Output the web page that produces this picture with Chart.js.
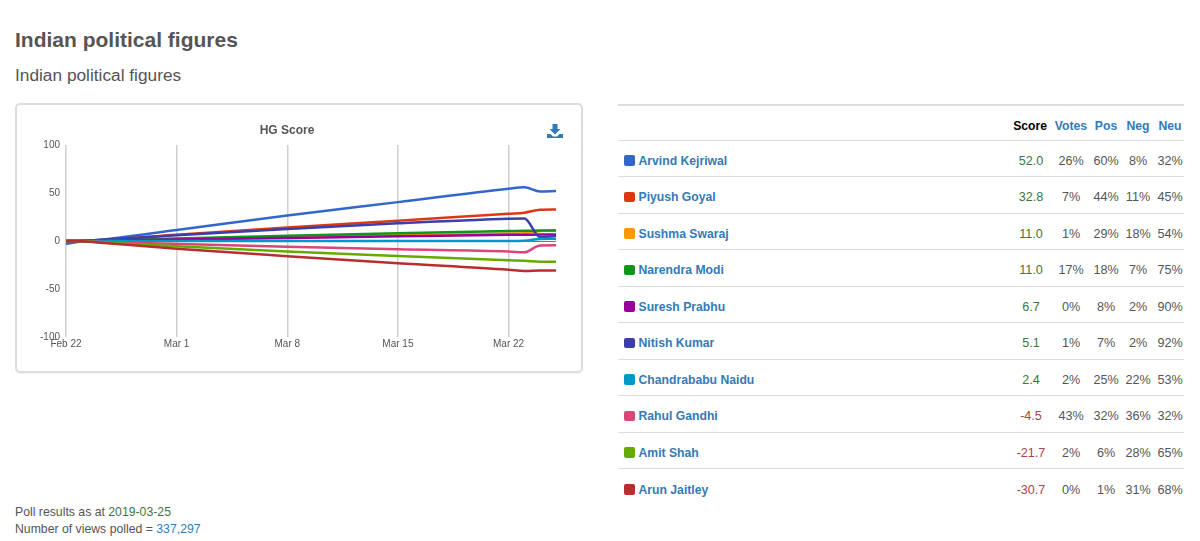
<!DOCTYPE html>
<html>
<head>
<meta charset="utf-8">
<title>Indian political figures</title>
<script src="https://cdn.jsdelivr.net/npm/chart.js@4"></script>
<style>
    html, body { margin: 0; padding: 0; background: #fff; }
    body { width: 1200px; height: 541px; position: relative; overflow: hidden; font-family: "Liberation Sans", Arial, sans-serif; color: #555; }
    h1 { position: absolute; left: 15px; top: 27px; margin: 0; font-size: 21px; line-height: 26px; font-weight: bold; }
    h2 { position: absolute; left: 15px; top: 64px; margin: 0; font-size: 17.3px; line-height: 22px; font-weight: normal; }
    .card { position: absolute; left: 15px; top: 103px; width: 564px; height: 266px; border: 2px solid #ddd; border-radius: 5px; background: #fff; box-shadow: 0 1px 1px rgba(0,0,0,.05); }
    #hgChart { position: absolute; left: 1px; top: 2px; }
    .download { position: absolute; left: 530px; top: 19px; }
    table { position: absolute; left: 618px; top: 104px; width: 566px; border-collapse: collapse; table-layout: fixed; font-size: 12.6px; border-top: 2px solid #ddd; }
    th, td { padding: 0; text-align: center; border-bottom: 1.5px solid #ddd; }
    tr:last-child td { border-bottom: none; }
    th { height: 35px; font-size: 12.2px; font-weight: bold; color: #337ab7; padding-top: 6px; box-sizing: border-box; }
    td { height: 36.5px; padding-top: 5px; box-sizing: border-box; }
    th.score { color: #000; text-align: right; padding-right: 3px; }
    td.score { padding-left: 20px; }
    td.name { text-align: left; font-size: 12.2px; font-weight: bold; color: #337ab7; padding-left: 6px; }
    .swatch { display: inline-block; width: 10.5px; height: 10.5px; border-radius: 2px; margin-right: 4px; vertical-align: -1px; }
    .pos { color: #3c763d; }
    .neg { color: #a94442; }
    .foot { position: absolute; left: 15px; top: 504px; font-size: 12.25px; line-height: 17px; }
    .foot .date { color: #3c763d; }
    .foot .views { color: #337ab7; }
</style>
</head>
<body>
<h1>Indian political figures</h1>
<h2>Indian political figures</h2>

<div class="card">
    <canvas id="hgChart" width="544" height="264"></canvas>
    <svg class="download" width="16" height="14" viewBox="0 0 16 14">
        <path fill="#337ab7" d="M5.5 0h5v5h3L8 10.5 2.500 5h3z"/>
        <path fill="#337ab7" d="M0 10h3.500L6 12.500h4L12.500 10H16v4H0z"/>
    </svg>
</div>

<table id="scoreTable">
    <colgroup>
        <col style="width:374px"><col style="width:58px"><col style="width:42px"><col style="width:28px"><col style="width:36px"><col style="width:28px">
    </colgroup>
    <thead>
        <tr><th></th><th class="score">Score</th><th>Votes</th><th>Pos</th><th>Neg</th><th>Neu</th></tr>
    </thead>
    <tbody></tbody>
</table>

<div class="foot">
    Poll results as at <span class="date">2019-03-25</span><br>
    Number of views polled = <span class="views">337,297</span>
</div>

<script>
// days since Feb 22 for each sample
const days = [0, 1, 2, 7, 14, 21, 28, 29, 30, 31];
const tickLabels = ['Feb 22', 'Mar 1', 'Mar 8', 'Mar 15', 'Mar 22'];

const names = ['Arvind Kejriwal', 'Piyush Goyal', 'Sushma Swaraj', 'Narendra Modi', 'Suresh Prabhu', 'Nitish Kumar', 'Chandrababu Naidu', 'Rahul Gandhi', 'Amit Shah', 'Arun Jaitley'];
const colors = ['#3366cc', '#dc3912', '#ff9900', '#109618', '#990099', '#3b3eac', '#0099c6', '#dd4477', '#66aa00', '#b82e2e'];

const arvind = [-3, -0.5, 1, 11.5, 26.5, 40.5, 54.5, 56, 51.5, 52.0];
const piyush = [0, 0.3, 0.8, 6.5, 14, 21.2, 28.5, 29.5, 32.5, 32.8];
const sushma = [0, 0, 0.3, 2, 4, 6, 7.7, 8, 10.5, 11.0];
const narendra = [0, 0, 0.4, 2.6, 5.4, 8, 10.3, 10.6, 11, 11.0];
const suresh = [0, 0, 0.2, 1.5, 3.2, 4.9, 6.4, 6.5, 6.7, 6.7];
const nitish = [0, 0.3, 1, 6, 12.5, 18.5, 23.3, 23.5, 4, 5.1];
const chandrababu = [0, 0, 0, 0, 0, 0, 0.1, 0.3, 2.2, 2.4];
const rahul = [0, 0, -0.8, -3, -6, -8.7, -11, -11.8, -4.6, -4.5];
const amit = [0, -0.3, -1.2, -5.5, -11, -15.6, -20, -20.6, -21.5, -21.7];
const arun = [0, -0.3, -1.5, -8, -15.8, -23.2, -30, -31.3, -30.8, -30.7];
const seriesValues = [arvind, piyush, sushma, narendra, suresh, nitish, chandrababu, rahul, amit, arun];

const scores = [52.0, 32.8, 11.0, 11.0, 6.7, 5.1, 2.4, -4.5, -21.7, -30.7];
const votes = [26, 7, 1, 17, 0, 1, 2, 43, 2, 0];
const positive = [60, 44, 29, 18, 8, 7, 25, 32, 6, 1];
const negative = [8, 11, 18, 7, 2, 2, 22, 36, 28, 31];
const neutral = [32, 45, 54, 75, 90, 92, 53, 32, 65, 68];

// Fill in the score table
const tbody = document.querySelector('#scoreTable tbody');
names.forEach((name, i) => {
    const row = tbody.insertRow();
    const nameCell = row.insertCell(0);
    nameCell.className = 'name';
    nameCell.innerHTML = '<span class="swatch" style="background:' + colors[i] + '"></span>' + name;
    const scoreCell = row.insertCell(1);
    scoreCell.className = 'score ' + (scores[i] < 0 ? 'neg' : 'pos');
    scoreCell.innerText = scores[i].toFixed(1);
    [votes, positive, negative, neutral].forEach((col, c) => {
        row.insertCell(c + 2).innerText = col[i] + '%';
    });
});

const datasets = names.map((name, i) => ({
    label: name,
    data: days.map((d, k) => ({ x: d, y: seriesValues[i][k] })),
    borderColor: colors[i],
    backgroundColor: colors[i],
    borderWidth: 2.5,
    pointRadius: 0,
    fill: false,
    cubicInterpolationMode: 'monotone',
    // later series sit on top
    order: names.length - i
}));

const ctx = document.getElementById('hgChart').getContext('2d');
new Chart(ctx, {
    type: 'line',
    data: { datasets: datasets },
    options: {
        responsive: false,
        animation: false,
        layout: { padding: { right: 6 } },
        plugins: {
            legend: { display: false },
            tooltip: { enabled: false },
            title: {
                display: true,
                text: 'HG Score',
                color: '#555',
                font: { family: '"Liberation Sans", Arial, sans-serif', size: 12, weight: 'bold' },
                padding: { top: 16, bottom: 7.6 }
            }
        },
        scales: {
            x: {
                type: 'linear',
                min: 0,
                max: 31,
                afterFit: scale => { scale.height = 34; },
                border: { display: false },
                grid: { color: '#cfcfcf', lineWidth: 1.5, drawTicks: false },
                ticks: {
                    stepSize: 7,
                    includeBounds: false,
                    autoSkip: false,
                    maxRotation: 0,
                    padding: 1,
                    color: '#555',
                    font: { family: '"Liberation Sans", Arial, sans-serif', size: 10 },
                    callback: value => tickLabels[value / 7]
                }
            },
            y: {
                min: -100,
                max: 100,
                afterFit: scale => { scale.width = 48; },
                border: { display: false },
                grid: {
                    drawTicks: false,
                    lineWidth: 1,
                    color: c => (c.tick && c.tick.value === 0 ? '#777' : 'rgba(0,0,0,0)')
                },
                ticks: {
                    stepSize: 50,
                    padding: 6,
                    color: '#555',
                    font: { family: '"Liberation Sans", Arial, sans-serif', size: 10 }
                }
            }
        }
    }
});
</script>
</body>
</html>
